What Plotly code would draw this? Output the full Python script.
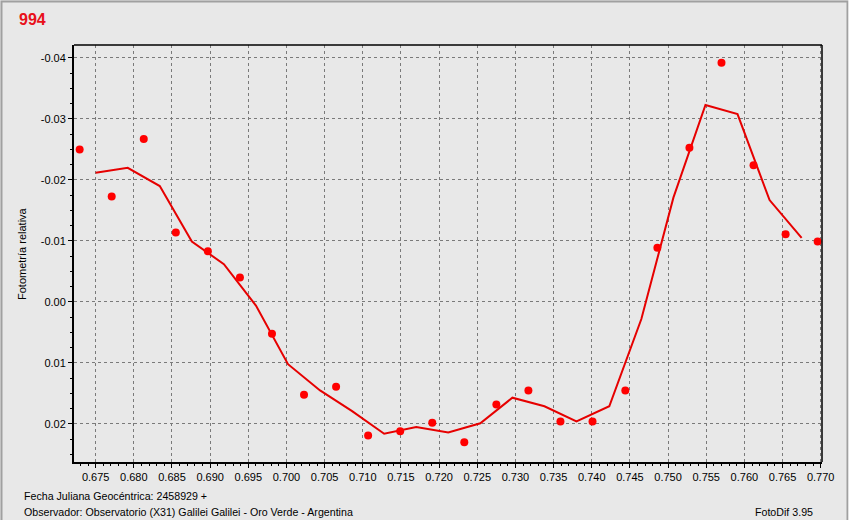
import plotly.graph_objects as go

# ---- data ----
obs_x = [0.6729, 0.6771, 0.6813, 0.6855, 0.6897, 0.6939, 0.6981, 0.7023,
         0.7065, 0.7107, 0.7149, 0.7191, 0.7233, 0.7275, 0.7317, 0.7359,
         0.7401, 0.7444, 0.7486, 0.7528, 0.7570, 0.7612, 0.7654, 0.7696]
obs_y = [-0.0250, -0.0173, -0.0267, -0.0114, -0.0083, -0.0040, 0.0052, 0.0152,
         0.0139, 0.0219, 0.0212, 0.0198, 0.0230, 0.0168, 0.0145, 0.0196,
         0.0196, 0.0145, -0.0089, -0.0253, -0.0392, -0.0224, -0.0111, -0.0099]

curve_x = [0.6750, 0.6792, 0.6834, 0.6876, 0.6918, 0.6960, 0.7002, 0.7044,
           0.7086, 0.7128, 0.7170, 0.7212, 0.7254, 0.7296, 0.7338, 0.7380,
           0.7423, 0.7465, 0.7507, 0.7549, 0.7591, 0.7633, 0.7675]
curve_y = [-0.0212, -0.0220, -0.0190, -0.0099, -0.0062, 0.0006, 0.0102, 0.0145,
           0.0179, 0.0216, 0.0205, 0.0214, 0.0199, 0.0157, 0.0171, 0.0196,
           0.0171, 0.0028, -0.0171, -0.0323, -0.0308, -0.0167, -0.0105]

x_tick_vals = [0.675, 0.680, 0.685, 0.690, 0.695, 0.700, 0.705, 0.710, 0.715, 0.720,
               0.725, 0.730, 0.735, 0.740, 0.745, 0.750, 0.755, 0.760, 0.765, 0.770]
x_tick_text = ["0.675", "0.680", "0.685", "0.690", "0.695", "0.700", "0.705", "0.710",
               "0.715", "0.720", "0.725", "0.730", "0.735", "0.740", "0.745", "0.750",
               "0.755", "0.760", "0.765", "0.770"]
y_tick_vals = [-0.04, -0.03, -0.02, -0.01, 0.0, 0.01, 0.02]
y_tick_text = ["-0.04", "-0.03", "-0.02", "-0.01", "0.00", "0.01", "0.02"]

title_text = "994"
y_title = "Fotometría relativa"
footer1 = "Fecha Juliana Geocéntrica: 2458929 +"
footer2 = "Observador: Observatorio (X31) Galilei Galilei - Oro Verde - Argentina"
footer3 = "FotoDif 3.95"

BG = "#E8E8E8"
RED = "#FF0000"
FONT = "Arial, Liberation Sans, sans-serif"

fig = go.Figure()
fig.add_trace(go.Scatter(x=curve_x, y=curve_y, mode="lines",
                         line=dict(color="#E60000", width=2), hoverinfo="skip",
                         showlegend=False))
fig.add_trace(go.Scatter(x=obs_x, y=obs_y, mode="markers",
                         marker=dict(color=RED, size=8, line=dict(width=0)),
                         showlegend=False))

W, H = 852, 520
L, R, T, B = 74, 822, 45, 462

def px(xp):
    return (xp - L) / (R - L)

def py(yp):
    return (B - yp) / (B - T)

fig.update_layout(
    width=W, height=H,
    margin=dict(l=L, r=W - R, t=T, b=H - B, pad=0),
    paper_bgcolor=BG, plot_bgcolor=BG,
    font=dict(family=FONT, size=11, color="#000000"),
    xaxis=dict(range=[0.67216, 0.77017], tickvals=x_tick_vals, ticktext=x_tick_text,
               showgrid=True, gridcolor="#7A7A7A", gridwidth=1, griddash="3px,3px",
               zeroline=False, showline=True, linecolor="#000000", linewidth=2,
               ticks="outside", ticklen=4, tickcolor="#000000",
               tickfont=dict(size=11, family=FONT),
               minor=dict(ticks="outside", ticklen=2, dtick=0.001, tickcolor="#000000",
                          showgrid=False)),
    yaxis=dict(range=[0.02624, -0.04213], tickvals=y_tick_vals, ticktext=y_tick_text,
               showgrid=True, gridcolor="#7A7A7A", gridwidth=1, griddash="3px,3px",
               zeroline=False, showline=True, linecolor="#000000", linewidth=2,
               ticks="outside", ticklen=4, tickcolor="#000000",
               tickfont=dict(size=11, family=FONT),
               minor=dict(ticks="outside", ticklen=2, dtick=0.0025, tickcolor="#000000",
                          showgrid=False)),
    shapes=[
        dict(type="line", xref="paper", yref="paper", x0=0, x1=1, y0=1, y1=1,
             line=dict(color="#000000", width=1.5)),
        dict(type="line", xref="paper", yref="paper", x0=1, x1=1, y0=0, y1=1,
             line=dict(color="#000000", width=1.5)),
        dict(type="rect", xref="paper", yref="paper",
             x0=px(1.5), x1=px(847.5), y0=py(530), y1=py(1.5),
             line=dict(color="#A0A0A0", width=2), fillcolor="rgba(0,0,0,0)",
             layer="above"),
        dict(type="rect", xref="paper", yref="paper",
             x0=px(848.5), x1=px(860), y0=py(530), y1=py(-5),
             line=dict(width=0), fillcolor="#FFFFFF", layer="above"),
    ],
    annotations=[
        dict(text="<b>%s</b>" % title_text, xref="paper", yref="paper",
             x=px(17), y=py(20), xanchor="left", yanchor="middle", showarrow=False,
             font=dict(size=16, color="#E8101A", family=FONT)),
        dict(text=y_title, xref="paper", yref="paper", x=px(22), y=py(254),
             xanchor="center", yanchor="middle", textangle=-90, showarrow=False,
             font=dict(size=11, family=FONT)),
        dict(text=footer1, xref="paper", yref="paper", x=px(22), y=py(496),
             xanchor="left", yanchor="middle", showarrow=False,
             font=dict(size=10.65, family=FONT)),
        dict(text=footer2, xref="paper", yref="paper", x=px(22), y=py(512),
             xanchor="left", yanchor="middle", showarrow=False,
             font=dict(size=10.65, family=FONT)),
        dict(text=footer3, xref="paper", yref="paper", x=px(815), y=py(512),
             xanchor="right", yanchor="middle", showarrow=False,
             font=dict(size=10.65, family=FONT)),
    ],
)

fig.write_html(
    "out.html",
    config={"displayModeBar": False},
    post_script="document.body.style.margin='0';document.body.style.overflow='hidden';",
)
